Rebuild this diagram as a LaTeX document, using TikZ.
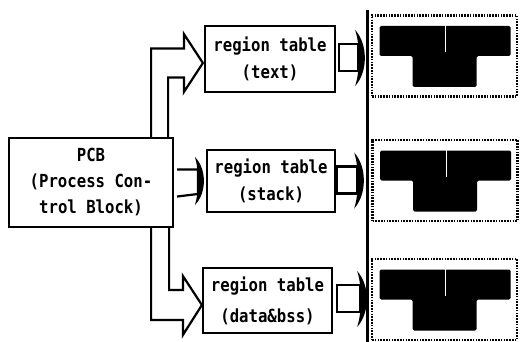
\documentclass[tikz,border=0pt]{standalone}
\usepackage{fontspec}
\setmonofont{DejaVu Sans Mono}[FakeStretch=0.87]
\usetikzlibrary{positioning, calc}
\tikzset{
  x=1pt, y=-1pt, % pixel units, y grows downwards
  regbox/.style={draw, line width=2.2pt, align=center, inner sep=0pt,
    font=\ttfamily\bfseries\fontsize{18}{27}\selectfont},
  memory/.style={draw, dash pattern=on 1.6pt off 1.2pt, line width=2.2pt, inner sep=0pt,
    minimum width=145pt, minimum height=81pt},
  fat/.style={draw, line width=2.2pt, line join=miter},
  crescent/.style={fill=black},
}
\begin{document}
\begin{tikzpicture}
  \useasboundingbox (0,0) rectangle (524,342);

  % boxes
  \node[regbox, minimum width=164pt, minimum height=89pt,
        font=\ttfamily\bfseries\fontsize{18}{26}\selectfont] (pcb) at (91,182.5)
        {PCB\\(Process Con-\\trol Block)};
  \node[regbox, minimum width=130pt, minimum height=66pt] (rtext) at (270,59)
        {region table\\(text)};
  \node[regbox, minimum width=128pt, minimum height=62pt] (rstack) at (271,181)
        {region table\\(stack)};
  \node[regbox, minimum width=129pt, minimum height=65pt,
        font=\ttfamily\bfseries\fontsize{18}{31}\selectfont] (rdata) at (267.5,300.5)
        {region table\\(data\&bss)};

  % memory images
  \node[memory] (mtext)  at (444.5,56) {};
  \node[memory] (mstack) at (445,180.5) {};
  \node[memory] (mdata)  at (444.5,299.5) {};
  \foreach \m in {mtext, mstack, mdata} {
    \fill[rounded corners=1.5pt] ($(\m.center)+(-65,-30)$) -- ($(\m.center)+(66,-30)$)
      -- ($(\m.center)+(66,0)$) -- ($(\m.center)+(32,0)$) -- ($(\m.center)+(32,31)$)
      -- ($(\m.center)+(-32,31)$) -- ($(\m.center)+(-32,0)$) -- ($(\m.center)+(-65,0)$) -- cycle;
    \draw[white, line width=1pt] ($(\m.center)+(1,-31)$) -- ($(\m.center)+(1,-4)$);
  }

  % divider
  \coordinate (divtop) at (367.5,10);
  \coordinate (divbot) at (367.5,342);
  \draw[line width=2.2pt] (divtop) -- (divbot);

  % PCB -> region tables
  \draw[fat] ($(pcb.north east)+(-23,0)$) |- ($(rtext.west)+(-20,-10.5)$) -- ++(0,-14.5)
    -- ($(rtext.west)+(-1,4)$) -- ($(rtext.west)+(-20,33)$) -- ++(0,-14.5)
    -| ($(pcb.north east)+(-6,0)$);
  \draw[fat] ($(pcb.south east)+(-23,0)$) |- ($(rdata.west)+(-19,19.5)$) -- ++(0,15)
    -- ($(rdata.west)+(0,4.5)$) -- ($(rdata.west)+(-19,-24.5)$) -- ++(0,14)
    -| ($(pcb.south east)+(-5,0)$);
  \draw[fat] ($(pcb.east)+(3,-13)$) -| ($(rstack.west)+(-8,13)$) -- ($(pcb.east)+(3,14)$);
  \fill[crescent] ($(rstack.west)+(-11,-24)$) .. controls ($(rstack.west)+(1,-12)$)
    and ($(rstack.west)+(1,12)$) .. ($(rstack.west)+(-11,24)$)
    .. controls ($(rstack.west)+(-7,12)$) and ($(rstack.west)+(-7,-12)$) .. cycle;

  % region tables -> memory
  \foreach \r/\dy/\a/\b in {rtext/-1/3/22, rstack/-0.5/1/21, rdata/-1.5/4/27} {
    \draw[fat] ($(\r.east)+(\a,\dy-14)$) rectangle ($(\r.east)+(\b,\dy+13)$);
    \fill[crescent] ($(\r.east)+(\b-3,\dy-28)$) .. controls ($(\r.east)+(\b+10,\dy-14)$)
      and ($(\r.east)+(\b+10,\dy+14)$) .. ($(\r.east)+(\b-3,\dy+28)$)
      .. controls ($(\r.east)+(\b+2,\dy+14)$) and ($(\r.east)+(\b+2,\dy-14)$) .. cycle;
  }
\end{tikzpicture}
\end{document}
